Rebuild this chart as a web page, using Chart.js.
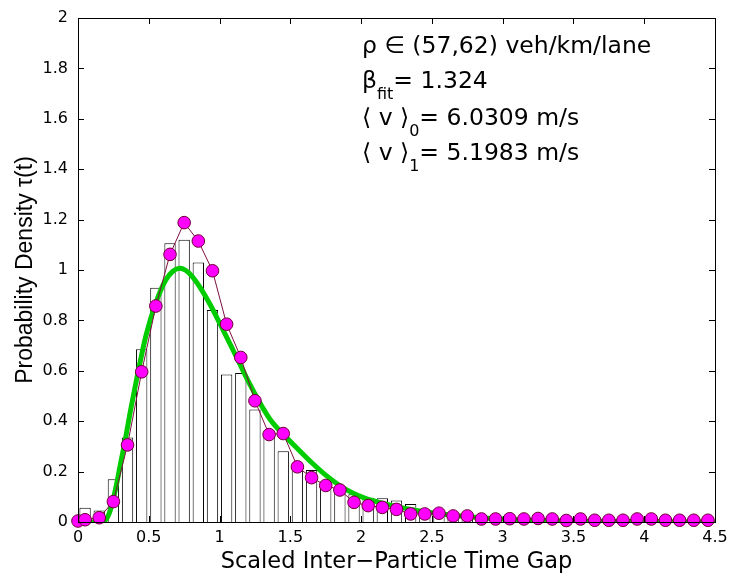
<!DOCTYPE html>
<html>
<head>
<meta charset="utf-8">
<script src="https://cdn.jsdelivr.net/npm/chart.js@4/dist/chart.umd.min.js"></script>
<style>
  html, body { margin: 0; padding: 0; background: #fff; }
  #wrap { width: 730px; height: 573px; position: relative; }
</style>
</head>
<body>
<div id="wrap"><canvas id="c"></canvas></div>
<script>
// ---- data ----
const binCenters = [0.05,0.15,0.25,0.35,0.45,0.55,0.65,0.75,0.85,0.95,1.05,1.15,1.25,1.35,1.45,1.55,1.65,1.75,1.85,1.95,2.05,2.15,2.25,2.35,2.45,2.55,2.65,2.75,2.85,2.95,3.05,3.15,3.25,3.35,3.45,3.55,3.65,3.75,3.85,3.95,4.05,4.15,4.25,4.35,4.45];
const histValues = [0.057,0.046,0.17,0.335,0.686,0.93,1.106,1.12,1.03,0.841,0.585,0.591,0.446,0.338,0.281,0.23,0.206,0.16,0.14,0.11,0.096,0.094,0.085,0.071,0.05,0.04,0.03,0.024,0.018,0.014,0.012,0.01,0.008,0.007,0.006,0.005,0.004,0.004,0.003,0.003,0.002,0.002,0.002,0.001,0.001];

const pointX = [0,0.05,0.15,0.25,0.35,0.45,0.55,0.65,0.75,0.85,0.95,1.05,1.15,1.25,1.35,1.45,1.55,1.65,1.75,1.85,1.95,2.05,2.15,2.25,2.35,2.45,2.55,2.65,2.75,2.85,2.95,3.05,3.15,3.25,3.35,3.45,3.55,3.65,3.75,3.85,3.95,4.05,4.15,4.25,4.35,4.45];
const pointY = [0.004,0.009,0.017,0.081,0.306,0.596,0.857,1.062,1.188,1.115,0.997,0.785,0.653,0.481,0.347,0.351,0.219,0.176,0.145,0.127,0.078,0.065,0.058,0.05,0.032,0.032,0.035,0.024,0.024,0.012,0.012,0.013,0.012,0.014,0.012,0.006,0.012,0.007,0.007,0.007,0.012,0.012,0.007,0.007,0.007,0.007];

const fitX = [0,0.1,0.16,0.2,0.23,0.265,0.3,0.335,0.37,0.41,0.48,0.55,0.62,0.67,0.72,0.76,0.8,0.86,0.94,1.0,1.08,1.15,1.22,1.29,1.36,1.45,1.56,1.65,1.75,1.84,1.94,2.03,2.12,2.22,2.4,2.6,2.8,3.0,3.3,3.6,4.0,4.5];
const fitY = [0,0,0.002,0.012,0.05,0.13,0.23,0.33,0.44,0.555,0.74,0.87,0.96,0.995,1.007,0.999,0.979,0.933,0.856,0.79,0.7,0.619,0.54,0.468,0.405,0.348,0.286,0.236,0.186,0.148,0.115,0.094,0.079,0.065,0.045,0.03,0.019,0.012,0.006,0.003,0.001,0];

const xTicks = [0,0.5,1,1.5,2,2.5,3,3.5,4,4.5];
const xTickLabels = ['0','0.5','1','1.5','2','2.5','3','3.5','4','4.5'];
const yTicks = [0,0.2,0.4,0.6,0.8,1,1.2,1.4,1.6,1.8,2];
const yTickLabels = ['0','0.2','0.4','0.6','0.8','1','1.2','1.4','1.6','1.8','2'];

const xTitle = 'Scaled Inter\u2212Particle Time Gap';
const yTitle = 'Probability Density \u03C4(t)';
const annotLines = [
  {main:'\u03C1 \u2208 (57,62) veh/km/lane'},
  {main:'\u03B2', sub:'fit', rest:'= 1.324'},
  {main:'\u27E8 v \u27E9', sub:'0', rest:'= 6.0309 m/s'},
  {main:'\u27E8 v \u27E9', sub:'1', rest:'= 5.1983 m/s'}
];

// ---- plugins ----
const boxTicks = {
  id: 'boxTicks',
  afterDatasetsDraw(chart) {
    const {ctx, chartArea: a, scales: {x, y}} = chart;
    const L = 6;
    ctx.save();
    ctx.strokeStyle = '#000';
    ctx.lineWidth = 1;
    ctx.beginPath();
    xTicks.forEach(v => {
      const px = Math.round(x.getPixelForValue(v)) + 0.5;
      ctx.moveTo(px, a.bottom); ctx.lineTo(px, a.bottom - L);
      ctx.moveTo(px, a.top); ctx.lineTo(px, a.top + L);
    });
    yTicks.forEach(v => {
      const py = Math.round(y.getPixelForValue(v)) + 0.5;
      ctx.moveTo(a.left, py); ctx.lineTo(a.left + L, py);
      ctx.moveTo(a.right, py); ctx.lineTo(a.right - L, py);
    });
    ctx.stroke();
    ctx.strokeRect(Math.round(a.left) + 0.5, Math.round(a.top) + 0.5, Math.round(a.right - a.left), Math.round(a.bottom - a.top));
    ctx.restore();
  }
};

const annot = {
  id: 'annot',
  afterDraw(chart) {
    const ctx = chart.ctx;
    ctx.save();
    ctx.fillStyle = '#000';
    ctx.textBaseline = 'alphabetic';
    ctx.textAlign = 'left';
    const big = '23.5px "DejaVu Sans"', small = '16px "DejaVu Sans"';
    const x0 = 362;
    const baselines = [53, 88, 125, 160];
    annotLines.forEach((ln, i) => {
      const b = baselines[i];
      ctx.font = big;
      ctx.fillText(ln.main, x0, b);
      let xx = x0 + ctx.measureText(ln.main).width;
      if (ln.sub) {
        ctx.font = small;
        ctx.fillText(ln.sub, xx, b + 11);
        xx += ctx.measureText(ln.sub).width;
        ctx.font = big;
        ctx.fillText(ln.rest, xx, b);
      }
    });
    ctx.restore();
  }
};

const tickFont = {family: 'DejaVu Sans', size: 16};

new Chart(document.getElementById('c'), {
  type: 'bar',
  data: {
    datasets: [
      {
        type: 'line',
        data: pointX.map((v, i) => ({x: v, y: pointY[i]})),
        borderColor: '#7F0F3F',
        borderWidth: 1,
        backgroundColor: '#FF00FF',
        pointBackgroundColor: '#FF00FF',
        pointBorderColor: '#6F0035',
        pointBorderWidth: 1,
        pointRadius: 6.3,
        tension: 0,
        clip: false,
        order: 0
      },
      {
        type: 'line',
        data: fitX.map((v, i) => ({x: v, y: fitY[i]})),
        borderColor: '#00CC00',
        borderWidth: 5,
        pointRadius: 0,
        cubicInterpolationMode: 'monotone',
        fill: false,
        order: 1
      },
      {
        type: 'bar',
        data: binCenters.map((v, i) => ({x: v, y: histValues[i]})),
        backgroundColor: '#FFFFFF',
        borderColor: '#000000',
        borderWidth: 1,
        categoryPercentage: 1.0,
        barPercentage: 0.8,
        order: 2
      }
    ]
  },
  options: {
    responsive: true,
    maintainAspectRatio: false,
    animation: false,
    events: [],
    layout: {padding: {top: 18, right: 15, left: 0, bottom: 0}},
    plugins: {legend: {display: false}, tooltip: {enabled: false}},
    scales: {
      x: {
        type: 'linear', min: 0, max: 4.5, offset: false,
        grid: {display: false, drawTicks: false},
        border: {display: false},
        afterBuildTicks: s => { s.ticks = xTicks.map(v => ({value: v})); },
        ticks: {color: '#000', font: tickFont, padding: 6, maxRotation: 0, autoSkip: false,
                callback: (v, i) => xTickLabels[i]},
        title: {display: true, text: xTitle, color: '#000',
                font: {family: 'DejaVu Sans', size: 22.5, lineHeight: 1}, padding: 0},
        afterFit: s => { s.height = 51; s.paddingLeft = 0; s.paddingRight = 0; }
      },
      y: {
        type: 'linear', min: 0, max: 2,
        grid: {display: false, drawTicks: false},
        border: {display: false},
        afterBuildTicks: s => { s.ticks = yTicks.map(v => ({value: v})); },
        ticks: {color: '#000', font: tickFont, padding: 10, autoSkip: false,
                callback: (v, i) => yTickLabels[i]},
        title: {display: true, text: yTitle, color: '#000',
                font: {family: 'Liberation Sans', size: 23, lineHeight: 1.2}, padding: {top: 12, bottom: 0}},
        afterFit: s => { s.width = 78; s.paddingTop = 0; s.paddingBottom = 0; }
      }
    }
  },
  plugins: [boxTicks, annot]
});
</script>
</body>
</html>
